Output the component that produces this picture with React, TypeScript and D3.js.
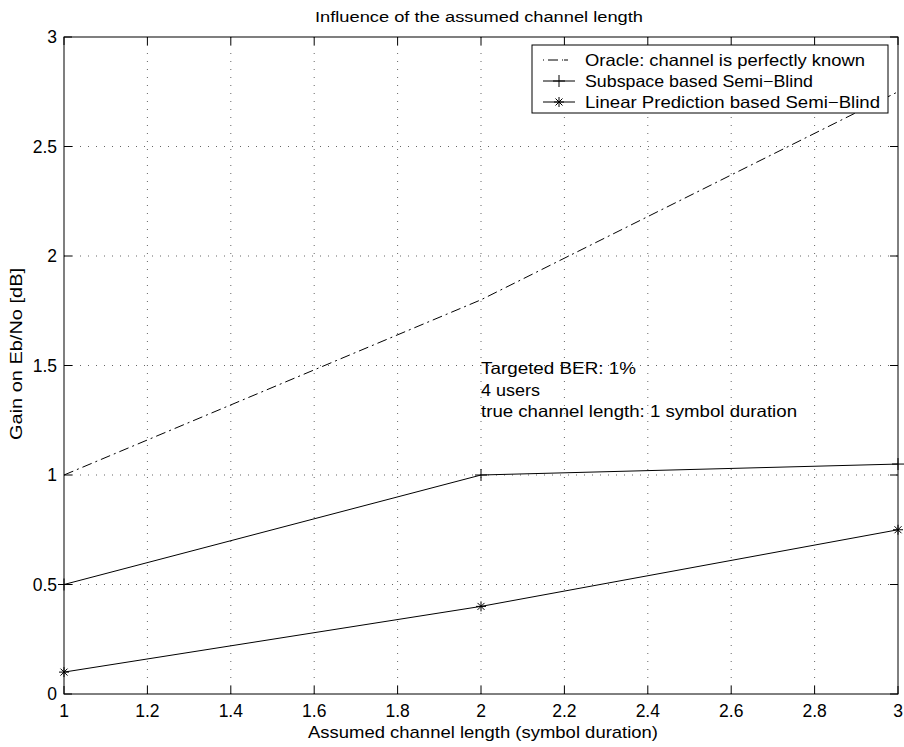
import React from "react";
import * as d3 from "d3";

const xValues = [1, 2, 3];
const oracle = [1.0, 1.8, 2.75];
const subspace = [0.5, 1.0, 1.05];
const linearPred = [0.1, 0.4, 0.75];
const xTicks = [1, 1.2, 1.4, 1.6, 1.8, 2, 2.2, 2.4, 2.6, 2.8, 3];
const yTicks = [0, 0.5, 1, 1.5, 2, 2.5, 3];
const legendLabels = [
  "Oracle: channel is perfectly known",
  "Subspace based Semi\u2212Blind",
  "Linear Prediction based Semi\u2212Blind",
];
const annotation = [
  "Targeted BER: 1%",
  "4 users",
  "true channel length: 1 symbol duration",
];

const W = 904, H = 747;
const L = 64, R = 898, T = 37, B = 694;
const font = "'Liberation Sans', Arial, Helvetica, sans-serif";
const legendLen = [280, 228, 295];
const annLen = [155, 59, 316];

function Star({ x, y }: { x: number; y: number }) {
  const s = 5;
  const d = s * 0.7;
  return (
    <g stroke="#000" strokeWidth={1}>
      <line x1={x - s} y1={y} x2={x + s} y2={y} />
      <line x1={x} y1={y - s} x2={x} y2={y + s} />
      <line x1={x - d} y1={y - d} x2={x + d} y2={y + d} />
      <line x1={x - d} y1={y + d} x2={x + d} y2={y - d} />
    </g>
  );
}
function Plus({ x, y }: { x: number; y: number }) {
  const s = 6;
  return (
    <g stroke="#000" strokeWidth={1}>
      <line x1={x - s} y1={y} x2={x + s} y2={y} />
      <line x1={x} y1={y - s} x2={x} y2={y + s} />
    </g>
  );
}

export default function App() {
  const x = d3.scaleLinear().domain([1, 3]).range([L, R]);
  const y = d3.scaleLinear().domain([0, 3]).range([B, T]);
  const line = d3
    .line<number>()
    .x((_, i) => x(xValues[i]))
    .y((d) => y(d));

  const legX = 532, legY = 45, legW = 356, legH = 68;
  const rowY = [60, 81, 102];

  return (
    <svg width={W} height={H} style={{ position: "absolute", left: 0, top: 0, background: "#fff" }} fontFamily={font}>
      <rect x={0} y={0} width={W} height={H} fill="#fff" />
      {/* grid */}
      <g stroke="#000" strokeWidth={1} strokeDasharray="1,7" opacity={0.6}>
        {xTicks.slice(1, -1).map((t) => (
          <line key={"gx" + t} x1={x(t)} x2={x(t)} y1={T} y2={B} />
        ))}
        {yTicks.slice(1, -1).map((t) => (
          <line key={"gy" + t} x1={L} x2={R} y1={y(t)} y2={y(t)} />
        ))}
      </g>
      {/* ticks */}
      <g stroke="#000" strokeWidth={1}>
        {xTicks.map((t) => (
          <g key={"tx" + t}>
            <line x1={x(t)} x2={x(t)} y1={B} y2={B - 8} />
            <line x1={x(t)} x2={x(t)} y1={T} y2={T + 8} />
          </g>
        ))}
        {yTicks.map((t) => (
          <g key={"ty" + t}>
            <line x1={L} x2={L + 8} y1={y(t)} y2={y(t)} />
            <line x1={R} x2={R - 8} y1={y(t)} y2={y(t)} />
          </g>
        ))}
      </g>
      <rect x={L} y={T} width={R - L} height={B - T} fill="none" stroke="#000" strokeWidth={1} />
      {/* tick labels */}
      <g fontSize={17.5} fill="#000">
        {xTicks.map((t) => (
          <text key={"lx" + t} x={x(t)} y={717} textAnchor="middle">
            {d3.format("~g")(t)}
          </text>
        ))}
        {yTicks.map((t) => (
          <text key={"ly" + t} x={L - 7} y={y(t) + 6} textAnchor="end">
            {d3.format("~g")(t)}
          </text>
        ))}
      </g>
      {/* series */}
      <path d={line(oracle) || ""} fill="none" stroke="#000" strokeWidth={1} strokeDasharray="10,4,2,4" />
      <path d={line(subspace) || ""} fill="none" stroke="#000" strokeWidth={1} />
      {subspace.map((v, i) => (
        <Plus key={"p" + i} x={x(xValues[i])} y={y(v)} />
      ))}
      <path d={line(linearPred) || ""} fill="none" stroke="#000" strokeWidth={1} />
      {linearPred.map((v, i) => (
        <Star key={"s" + i} x={x(xValues[i])} y={y(v)} />
      ))}
      {/* annotation */}
      <g fontSize={16.5} fill="#000">
        {annotation.map((s, i) => (
          <text key={s} x={x(2)} y={374 + i * 21.5} textLength={annLen[i]} lengthAdjust="spacingAndGlyphs">
            {s}
          </text>
        ))}
      </g>
      {/* legend */}
      <rect x={legX} y={legY} width={legW} height={legH} fill="#fff" stroke="#000" strokeWidth={1} />
      <line x1={543} x2={575} y1={rowY[0]} y2={rowY[0]} stroke="#000" strokeDasharray="1,4,10,4,1" />
      <line x1={543} x2={575} y1={rowY[1]} y2={rowY[1]} stroke="#000" />
      <Plus x={559} y={rowY[1]} />
      <line x1={543} x2={575} y1={rowY[2]} y2={rowY[2]} stroke="#000" />
      <Star x={559} y={rowY[2]} />
      <g fontSize={16.5} fill="#000">
        {legendLabels.map((s, i) => (
          <text key={s} x={585} y={rowY[i] + 6} textLength={legendLen[i]} lengthAdjust="spacingAndGlyphs">
            {s}
          </text>
        ))}
      </g>
      {/* titles */}
      <text x={479} y={22} textAnchor="middle" fontSize={15.5} textLength={328} lengthAdjust="spacingAndGlyphs">
        Influence of the assumed channel length
      </text>
      <text x={483} y={738} textAnchor="middle" fontSize={17} textLength={350} lengthAdjust="spacingAndGlyphs">
        Assumed channel length (symbol duration)
      </text>
      <text transform={`translate(22, 354) rotate(-90)`} textAnchor="middle" fontSize={17} textLength={172} lengthAdjust="spacingAndGlyphs">
        Gain on Eb/No [dB]
      </text>
    </svg>
  );
}
